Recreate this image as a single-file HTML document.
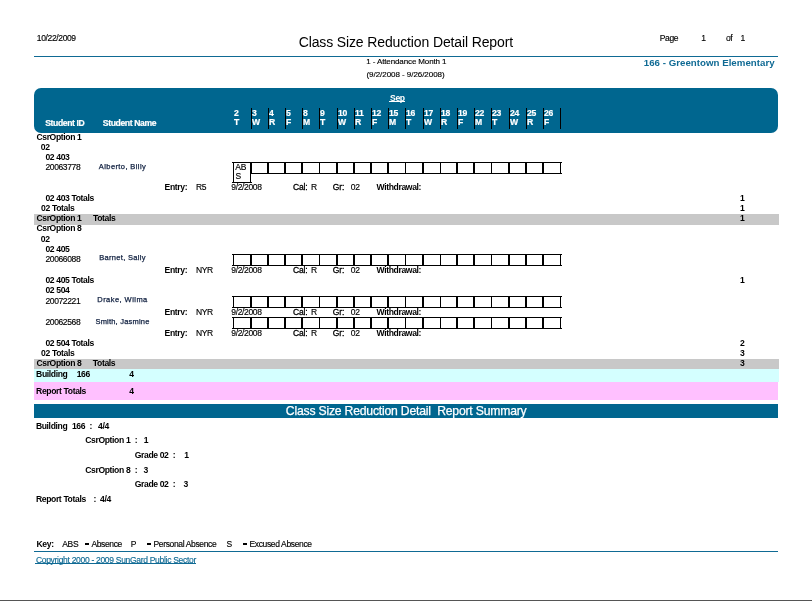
<!DOCTYPE html>
<html><head><meta charset="utf-8"><title>Class Size Reduction Detail Report</title>
<style>
html,body{margin:0;padding:0;background:#fff;}
body{width:812px;height:601px;position:relative;overflow:hidden;will-change:transform;font-family:"Liberation Sans",sans-serif;}
.t{position:absolute;white-space:pre;line-height:1;color:#000;}
.g{font-size:8.5px;letter-spacing:-0.36px;-webkit-text-stroke-width:0.15px;}
.b{font-size:8.6px;font-weight:700;letter-spacing:-0.37px;}
.r{position:absolute;}
.bx{position:absolute;box-sizing:border-box;border:1px solid #000;}
.nm{text-align:center;font-size:7.5px;font-weight:400;color:#102040;-webkit-text-stroke:0.25px #102040;}
</style></head><body>
<div class="t g" style="left:36.8px;top:34.10px;">10/22/2009</div>
<div class="t" style="left:298.7px;top:35.08px;font-size:14px;letter-spacing:-0.13px;">Class Size Reduction Detail Report</div>
<div class="t g" style="left:659.8px;top:34.40px;">Page</div>
<div class="t g" style="left:701.2px;top:34.40px;">1</div>
<div class="t g" style="left:725.9px;top:34.40px;">of</div>
<div class="t g" style="left:740.5px;top:34.40px;">1</div>
<div class="r" style="left:34px;top:56px;width:744px;height:1px;background:#0f6a94;"></div>
<div class="t" style="left:643.8px;top:58.04px;font-size:9.7px;font-weight:700;color:#0f6a94;letter-spacing:0.02px;">166 - Greentown Elementary</div>
<div class="t" style="left:366.3px;top:57.76px;font-size:8px;letter-spacing:-0.12px;-webkit-text-stroke-width:0.15px;">1 - Attendance Month 1</div>
<div class="t" style="left:366.5px;top:70.86px;font-size:8px;letter-spacing:-0.05px;-webkit-text-stroke-width:0.15px;">(9/2/2008 - 9/26/2008)</div>
<div class="r" style="left:34px;top:88px;width:744px;height:45px;background:#00668f;border-radius:7px;"></div>
<div class="t b" style="left:390.1px;top:93.88px;color:#fff;">Sep</div>
<div class="r" style="left:389px;top:101px;width:16px;height:1px;background:#fff;"></div>
<div class="t b" style="left:234px;top:109.18px;color:#fff;-webkit-text-stroke:0.2px #fff;">2</div>
<div class="t b" style="left:234px;top:118.08px;color:#fff;-webkit-text-stroke:0.2px #fff;">T</div>
<div class="t b" style="left:252px;top:109.18px;color:#fff;-webkit-text-stroke:0.2px #fff;">3</div>
<div class="t b" style="left:252px;top:118.08px;color:#fff;-webkit-text-stroke:0.2px #fff;">W</div>
<div class="r" style="left:251px;top:108px;width:1px;height:21px;background:#000;"></div>
<div class="t b" style="left:269px;top:109.18px;color:#fff;-webkit-text-stroke:0.2px #fff;">4</div>
<div class="t b" style="left:269px;top:118.08px;color:#fff;-webkit-text-stroke:0.2px #fff;">R</div>
<div class="r" style="left:268px;top:108px;width:1px;height:21px;background:#000;"></div>
<div class="t b" style="left:286px;top:109.18px;color:#fff;-webkit-text-stroke:0.2px #fff;">5</div>
<div class="t b" style="left:286px;top:118.08px;color:#fff;-webkit-text-stroke:0.2px #fff;">F</div>
<div class="r" style="left:285px;top:108px;width:1px;height:21px;background:#000;"></div>
<div class="t b" style="left:303px;top:109.18px;color:#fff;-webkit-text-stroke:0.2px #fff;">8</div>
<div class="t b" style="left:303px;top:118.08px;color:#fff;-webkit-text-stroke:0.2px #fff;">M</div>
<div class="r" style="left:302px;top:108px;width:1px;height:21px;background:#000;"></div>
<div class="t b" style="left:320px;top:109.18px;color:#fff;-webkit-text-stroke:0.2px #fff;">9</div>
<div class="t b" style="left:320px;top:118.08px;color:#fff;-webkit-text-stroke:0.2px #fff;">T</div>
<div class="r" style="left:319px;top:108px;width:1px;height:21px;background:#000;"></div>
<div class="t b" style="left:338px;top:109.18px;color:#fff;-webkit-text-stroke:0.2px #fff;">10</div>
<div class="t b" style="left:338px;top:118.08px;color:#fff;-webkit-text-stroke:0.2px #fff;">W</div>
<div class="r" style="left:337px;top:108px;width:1px;height:21px;background:#000;"></div>
<div class="t b" style="left:355px;top:109.18px;color:#fff;-webkit-text-stroke:0.2px #fff;">11</div>
<div class="t b" style="left:355px;top:118.08px;color:#fff;-webkit-text-stroke:0.2px #fff;">R</div>
<div class="r" style="left:354px;top:108px;width:1px;height:21px;background:#000;"></div>
<div class="t b" style="left:372px;top:109.18px;color:#fff;-webkit-text-stroke:0.2px #fff;">12</div>
<div class="t b" style="left:372px;top:118.08px;color:#fff;-webkit-text-stroke:0.2px #fff;">F</div>
<div class="r" style="left:371px;top:108px;width:1px;height:21px;background:#000;"></div>
<div class="t b" style="left:389px;top:109.18px;color:#fff;-webkit-text-stroke:0.2px #fff;">15</div>
<div class="t b" style="left:389px;top:118.08px;color:#fff;-webkit-text-stroke:0.2px #fff;">M</div>
<div class="r" style="left:388px;top:108px;width:1px;height:21px;background:#000;"></div>
<div class="t b" style="left:406px;top:109.18px;color:#fff;-webkit-text-stroke:0.2px #fff;">16</div>
<div class="t b" style="left:406px;top:118.08px;color:#fff;-webkit-text-stroke:0.2px #fff;">T</div>
<div class="r" style="left:405px;top:108px;width:1px;height:21px;background:#000;"></div>
<div class="t b" style="left:424px;top:109.18px;color:#fff;-webkit-text-stroke:0.2px #fff;">17</div>
<div class="t b" style="left:424px;top:118.08px;color:#fff;-webkit-text-stroke:0.2px #fff;">W</div>
<div class="r" style="left:423px;top:108px;width:1px;height:21px;background:#000;"></div>
<div class="t b" style="left:441px;top:109.18px;color:#fff;-webkit-text-stroke:0.2px #fff;">18</div>
<div class="t b" style="left:441px;top:118.08px;color:#fff;-webkit-text-stroke:0.2px #fff;">R</div>
<div class="r" style="left:440px;top:108px;width:1px;height:21px;background:#000;"></div>
<div class="t b" style="left:458px;top:109.18px;color:#fff;-webkit-text-stroke:0.2px #fff;">19</div>
<div class="t b" style="left:458px;top:118.08px;color:#fff;-webkit-text-stroke:0.2px #fff;">F</div>
<div class="r" style="left:457px;top:108px;width:1px;height:21px;background:#000;"></div>
<div class="t b" style="left:475px;top:109.18px;color:#fff;-webkit-text-stroke:0.2px #fff;">22</div>
<div class="t b" style="left:475px;top:118.08px;color:#fff;-webkit-text-stroke:0.2px #fff;">M</div>
<div class="r" style="left:474px;top:108px;width:1px;height:21px;background:#000;"></div>
<div class="t b" style="left:492px;top:109.18px;color:#fff;-webkit-text-stroke:0.2px #fff;">23</div>
<div class="t b" style="left:492px;top:118.08px;color:#fff;-webkit-text-stroke:0.2px #fff;">T</div>
<div class="r" style="left:491px;top:108px;width:1px;height:21px;background:#000;"></div>
<div class="t b" style="left:510px;top:109.18px;color:#fff;-webkit-text-stroke:0.2px #fff;">24</div>
<div class="t b" style="left:510px;top:118.08px;color:#fff;-webkit-text-stroke:0.2px #fff;">W</div>
<div class="r" style="left:509px;top:108px;width:1px;height:21px;background:#000;"></div>
<div class="t b" style="left:527px;top:109.18px;color:#fff;-webkit-text-stroke:0.2px #fff;">25</div>
<div class="t b" style="left:527px;top:118.08px;color:#fff;-webkit-text-stroke:0.2px #fff;">R</div>
<div class="r" style="left:526px;top:108px;width:1px;height:21px;background:#000;"></div>
<div class="t b" style="left:544px;top:109.18px;color:#fff;-webkit-text-stroke:0.2px #fff;">26</div>
<div class="t b" style="left:544px;top:118.08px;color:#fff;-webkit-text-stroke:0.2px #fff;">F</div>
<div class="r" style="left:543px;top:108px;width:1px;height:21px;background:#000;"></div>
<div class="r" style="left:560px;top:108px;width:1px;height:21px;background:#000;"></div>
<div class="t b" style="left:45.2px;top:119.48px;color:#fff;-webkit-text-stroke:0.2px #fff;">Student ID</div>
<div class="t b" style="left:102.8px;top:119.48px;color:#fff;-webkit-text-stroke:0.2px #fff;">Student Name</div>
<div class="t b" style="left:36.4px;top:133.08px;">CsrOption 1</div>
<div class="t b" style="left:40.8px;top:143.28px;">02</div>
<div class="t b" style="left:45.4px;top:152.98px;">02 403</div>
<div class="t g" style="left:45.4px;top:162.90px;">20063778</div>
<div class="t nm" style="left:72px;width:101px;top:163.20px;letter-spacing:0.4px;">Alberto, Billy</div>
<div class="r" style="left:232px;top:162px;width:330px;height:1px;background:#000;"></div>
<div class="r" style="left:250px;top:173px;width:312px;height:1px;background:#000;"></div>
<div class="r" style="left:232px;top:182px;width:20px;height:1px;background:#000;"></div>
<div class="r" style="left:233px;top:162px;width:1px;height:21px;background:#000;"></div>
<div class="r" style="left:250px;top:162px;width:1px;height:21px;background:#000;"></div>
<div class="t" style="left:235.3px;top:163.30px;font-size:8.5px;letter-spacing:-0.3px;-webkit-text-stroke-width:0.15px;">AB</div>
<div class="t" style="left:235.5px;top:172.30px;font-size:8.5px;-webkit-text-stroke-width:0.15px;">S</div>
<div class="r" style="left:250px;top:162px;width:2px;height:12px;background:#000;"></div>
<div class="r" style="left:267px;top:162px;width:2px;height:12px;background:#000;"></div>
<div class="r" style="left:284px;top:162px;width:2px;height:12px;background:#000;"></div>
<div class="r" style="left:301px;top:162px;width:2px;height:12px;background:#000;"></div>
<div class="r" style="left:319px;top:162px;width:1px;height:12px;background:#000;"></div>
<div class="r" style="left:336px;top:162px;width:2px;height:12px;background:#000;"></div>
<div class="r" style="left:353px;top:162px;width:2px;height:12px;background:#000;"></div>
<div class="r" style="left:370px;top:162px;width:2px;height:12px;background:#000;"></div>
<div class="r" style="left:387px;top:162px;width:2px;height:12px;background:#000;"></div>
<div class="r" style="left:405px;top:162px;width:1px;height:12px;background:#000;"></div>
<div class="r" style="left:422px;top:162px;width:2px;height:12px;background:#000;"></div>
<div class="r" style="left:440px;top:162px;width:1px;height:12px;background:#000;"></div>
<div class="r" style="left:456px;top:162px;width:2px;height:12px;background:#000;"></div>
<div class="r" style="left:473px;top:162px;width:2px;height:12px;background:#000;"></div>
<div class="r" style="left:491px;top:162px;width:1px;height:12px;background:#000;"></div>
<div class="r" style="left:508px;top:162px;width:2px;height:12px;background:#000;"></div>
<div class="r" style="left:525px;top:162px;width:2px;height:12px;background:#000;"></div>
<div class="r" style="left:542px;top:162px;width:2px;height:12px;background:#000;"></div>
<div class="r" style="left:560px;top:162px;width:1px;height:12px;background:#000;"></div>
<div class="t b" style="left:164.6px;top:182.88px;">Entry:</div>
<div class="t g" style="left:196px;top:182.90px;">R5</div>
<div class="t g" style="left:231.3px;top:182.90px;">9/2/2008</div>
<div class="t g" style="left:292.9px;top:182.90px;-webkit-text-stroke-width:0.3px;letter-spacing:-0.1px;">Cal:</div>
<div class="t g" style="left:311px;top:182.90px;">R</div>
<div class="t g" style="left:332.7px;top:182.90px;-webkit-text-stroke-width:0.3px;letter-spacing:-0.1px;">Gr:</div>
<div class="t g" style="left:350.8px;top:182.90px;">02</div>
<div class="t b" style="left:376.5px;top:182.88px;">Withdrawal:</div>
<div class="t b" style="left:45.4px;top:194.38px;">02 403 Totals</div>
<div class="t b" style="left:740px;top:194.08px;">1</div>
<div class="t b" style="left:41.1px;top:204.28px;">02 Totals</div>
<div class="t b" style="left:740px;top:204.08px;">1</div>
<div class="r" style="left:34px;top:214px;width:745px;height:11px;background:#c8c8c8;"></div>
<div class="t b" style="left:36.4px;top:214.08px;">CsrOption 1</div>
<div class="t b" style="left:93px;top:214.08px;">Totals</div>
<div class="t b" style="left:740px;top:213.88px;">1</div>
<div class="t b" style="left:36.4px;top:224.38px;">CsrOption 8</div>
<div class="t b" style="left:40.8px;top:235.08px;">02</div>
<div class="t b" style="left:45.4px;top:245.18px;">02 405</div>
<div class="t g" style="left:45.4px;top:255.00px;">20066088</div>
<div class="t nm" style="left:72px;width:101px;top:254.30px;letter-spacing:0.3px;">Barnet, Sally</div>
<div class="r" style="left:232px;top:254px;width:330px;height:1px;background:#000;"></div>
<div class="r" style="left:232px;top:265px;width:330px;height:1px;background:#000;"></div>
<div class="r" style="left:233px;top:254px;width:1px;height:12px;background:#000;"></div>
<div class="r" style="left:250px;top:254px;width:2px;height:12px;background:#000;"></div>
<div class="r" style="left:267px;top:254px;width:2px;height:12px;background:#000;"></div>
<div class="r" style="left:284px;top:254px;width:2px;height:12px;background:#000;"></div>
<div class="r" style="left:301px;top:254px;width:2px;height:12px;background:#000;"></div>
<div class="r" style="left:319px;top:254px;width:1px;height:12px;background:#000;"></div>
<div class="r" style="left:336px;top:254px;width:2px;height:12px;background:#000;"></div>
<div class="r" style="left:353px;top:254px;width:2px;height:12px;background:#000;"></div>
<div class="r" style="left:370px;top:254px;width:2px;height:12px;background:#000;"></div>
<div class="r" style="left:387px;top:254px;width:2px;height:12px;background:#000;"></div>
<div class="r" style="left:405px;top:254px;width:1px;height:12px;background:#000;"></div>
<div class="r" style="left:422px;top:254px;width:2px;height:12px;background:#000;"></div>
<div class="r" style="left:440px;top:254px;width:1px;height:12px;background:#000;"></div>
<div class="r" style="left:456px;top:254px;width:2px;height:12px;background:#000;"></div>
<div class="r" style="left:473px;top:254px;width:2px;height:12px;background:#000;"></div>
<div class="r" style="left:491px;top:254px;width:1px;height:12px;background:#000;"></div>
<div class="r" style="left:508px;top:254px;width:2px;height:12px;background:#000;"></div>
<div class="r" style="left:525px;top:254px;width:2px;height:12px;background:#000;"></div>
<div class="r" style="left:542px;top:254px;width:2px;height:12px;background:#000;"></div>
<div class="r" style="left:560px;top:254px;width:1px;height:12px;background:#000;"></div>
<div class="t b" style="left:164.6px;top:266.08px;">Entry:</div>
<div class="t g" style="left:196px;top:266.10px;">NYR</div>
<div class="t g" style="left:231.3px;top:266.10px;">9/2/2008</div>
<div class="t g" style="left:292.9px;top:266.10px;-webkit-text-stroke-width:0.3px;letter-spacing:-0.1px;">Cal:</div>
<div class="t g" style="left:311px;top:266.10px;">R</div>
<div class="t g" style="left:332.7px;top:266.10px;-webkit-text-stroke-width:0.3px;letter-spacing:-0.1px;">Gr:</div>
<div class="t g" style="left:350.8px;top:266.10px;">02</div>
<div class="t b" style="left:376.5px;top:266.08px;">Withdrawal:</div>
<div class="t b" style="left:45.4px;top:276.28px;">02 405 Totals</div>
<div class="t b" style="left:740px;top:276.28px;">1</div>
<div class="t b" style="left:45.4px;top:285.98px;">02 504</div>
<div class="t g" style="left:45.4px;top:297.10px;">20072221</div>
<div class="t nm" style="left:72px;width:101px;top:296.30px;letter-spacing:0.45px;">Drake, Wilma</div>
<div class="r" style="left:232px;top:296px;width:330px;height:1px;background:#000;"></div>
<div class="r" style="left:232px;top:307px;width:330px;height:1px;background:#000;"></div>
<div class="r" style="left:233px;top:296px;width:1px;height:12px;background:#000;"></div>
<div class="r" style="left:250px;top:296px;width:2px;height:12px;background:#000;"></div>
<div class="r" style="left:267px;top:296px;width:2px;height:12px;background:#000;"></div>
<div class="r" style="left:284px;top:296px;width:2px;height:12px;background:#000;"></div>
<div class="r" style="left:301px;top:296px;width:2px;height:12px;background:#000;"></div>
<div class="r" style="left:319px;top:296px;width:1px;height:12px;background:#000;"></div>
<div class="r" style="left:336px;top:296px;width:2px;height:12px;background:#000;"></div>
<div class="r" style="left:353px;top:296px;width:2px;height:12px;background:#000;"></div>
<div class="r" style="left:370px;top:296px;width:2px;height:12px;background:#000;"></div>
<div class="r" style="left:387px;top:296px;width:2px;height:12px;background:#000;"></div>
<div class="r" style="left:405px;top:296px;width:1px;height:12px;background:#000;"></div>
<div class="r" style="left:422px;top:296px;width:2px;height:12px;background:#000;"></div>
<div class="r" style="left:440px;top:296px;width:1px;height:12px;background:#000;"></div>
<div class="r" style="left:456px;top:296px;width:2px;height:12px;background:#000;"></div>
<div class="r" style="left:473px;top:296px;width:2px;height:12px;background:#000;"></div>
<div class="r" style="left:491px;top:296px;width:1px;height:12px;background:#000;"></div>
<div class="r" style="left:508px;top:296px;width:2px;height:12px;background:#000;"></div>
<div class="r" style="left:525px;top:296px;width:2px;height:12px;background:#000;"></div>
<div class="r" style="left:542px;top:296px;width:2px;height:12px;background:#000;"></div>
<div class="r" style="left:560px;top:296px;width:1px;height:12px;background:#000;"></div>
<div class="t b" style="left:164.6px;top:307.88px;">Entry:</div>
<div class="t g" style="left:196px;top:307.90px;">NYR</div>
<div class="t g" style="left:231.3px;top:307.90px;">9/2/2008</div>
<div class="t g" style="left:292.9px;top:307.90px;-webkit-text-stroke-width:0.3px;letter-spacing:-0.1px;">Cal:</div>
<div class="t g" style="left:311px;top:307.90px;">R</div>
<div class="t g" style="left:332.7px;top:307.90px;-webkit-text-stroke-width:0.3px;letter-spacing:-0.1px;">Gr:</div>
<div class="t g" style="left:350.8px;top:307.90px;">02</div>
<div class="t b" style="left:376.5px;top:307.88px;">Withdrawal:</div>
<div class="r" style="left:160px;top:315px;width:30px;height:2.5px;background:#fff;"></div>
<div class="t g" style="left:45.4px;top:318.10px;">20062568</div>
<div class="t nm" style="left:72px;width:101px;top:318.30px;letter-spacing:0.2px;">Smith, Jasmine</div>
<div class="r" style="left:232px;top:317px;width:330px;height:1px;background:#000;"></div>
<div class="r" style="left:232px;top:328px;width:330px;height:1px;background:#000;"></div>
<div class="r" style="left:233px;top:317px;width:1px;height:12px;background:#000;"></div>
<div class="r" style="left:250px;top:317px;width:2px;height:12px;background:#000;"></div>
<div class="r" style="left:267px;top:317px;width:2px;height:12px;background:#000;"></div>
<div class="r" style="left:284px;top:317px;width:2px;height:12px;background:#000;"></div>
<div class="r" style="left:301px;top:317px;width:2px;height:12px;background:#000;"></div>
<div class="r" style="left:319px;top:317px;width:1px;height:12px;background:#000;"></div>
<div class="r" style="left:336px;top:317px;width:2px;height:12px;background:#000;"></div>
<div class="r" style="left:353px;top:317px;width:2px;height:12px;background:#000;"></div>
<div class="r" style="left:370px;top:317px;width:2px;height:12px;background:#000;"></div>
<div class="r" style="left:387px;top:317px;width:2px;height:12px;background:#000;"></div>
<div class="r" style="left:405px;top:317px;width:1px;height:12px;background:#000;"></div>
<div class="r" style="left:422px;top:317px;width:2px;height:12px;background:#000;"></div>
<div class="r" style="left:440px;top:317px;width:1px;height:12px;background:#000;"></div>
<div class="r" style="left:456px;top:317px;width:2px;height:12px;background:#000;"></div>
<div class="r" style="left:473px;top:317px;width:2px;height:12px;background:#000;"></div>
<div class="r" style="left:491px;top:317px;width:1px;height:12px;background:#000;"></div>
<div class="r" style="left:508px;top:317px;width:2px;height:12px;background:#000;"></div>
<div class="r" style="left:525px;top:317px;width:2px;height:12px;background:#000;"></div>
<div class="r" style="left:542px;top:317px;width:2px;height:12px;background:#000;"></div>
<div class="r" style="left:560px;top:317px;width:1px;height:12px;background:#000;"></div>
<div class="t b" style="left:164.6px;top:328.88px;">Entry:</div>
<div class="t g" style="left:196px;top:328.90px;">NYR</div>
<div class="t g" style="left:231.3px;top:328.90px;">9/2/2008</div>
<div class="t g" style="left:292.9px;top:328.90px;-webkit-text-stroke-width:0.3px;letter-spacing:-0.1px;">Cal:</div>
<div class="t g" style="left:311px;top:328.90px;">R</div>
<div class="t g" style="left:332.7px;top:328.90px;-webkit-text-stroke-width:0.3px;letter-spacing:-0.1px;">Gr:</div>
<div class="t g" style="left:350.8px;top:328.90px;">02</div>
<div class="t b" style="left:376.5px;top:328.88px;">Withdrawal:</div>
<div class="t b" style="left:45.4px;top:339.48px;">02 504 Totals</div>
<div class="t b" style="left:740px;top:339.48px;">2</div>
<div class="t b" style="left:41.1px;top:349.08px;">02 Totals</div>
<div class="t b" style="left:740px;top:349.08px;">3</div>
<div class="r" style="left:34px;top:359px;width:745px;height:10px;background:#c8c8c8;"></div>
<div class="t b" style="left:36.4px;top:359.18px;">CsrOption 8</div>
<div class="t b" style="left:92.8px;top:359.18px;">Totals</div>
<div class="t b" style="left:740px;top:359.18px;">3</div>
<div class="r" style="left:34px;top:369px;width:745px;height:13px;background:#d4ffff;"></div>
<div class="t b" style="left:36.1px;top:369.88px;">Building</div>
<div class="t b" style="left:76.7px;top:369.88px;">166</div>
<div class="t b" style="left:129.3px;top:369.88px;">4</div>
<div class="r" style="left:34px;top:382px;width:744px;height:18px;background:#ffc0ff;"></div>
<div class="t b" style="left:36.1px;top:387.08px;">Report Totals</div>
<div class="t b" style="left:129.3px;top:387.08px;">4</div>
<div class="r" style="left:34px;top:404px;width:744px;height:14px;background:#00668f;"></div>
<div class="t" style="left:285.8px;top:404.81px;font-size:12.2px;color:#fff;letter-spacing:-0.2px;-webkit-text-stroke:0.25px #fff;">Class Size Reduction Detail&nbsp; Report Summary</div>
<div class="t b" style="left:35.9px;top:422.08px;">Building</div>
<div class="t b" style="left:71.9px;top:422.08px;">166</div>
<div class="t b" style="left:89.4px;top:422.08px;">:</div>
<div class="t b" style="left:98.1px;top:422.08px;">4/4</div>
<div class="t b" style="left:85.2px;top:436.28px;">CsrOption 1</div>
<div class="t b" style="left:134.7px;top:436.28px;">:</div>
<div class="t b" style="left:143.8px;top:436.28px;">1</div>
<div class="t b" style="left:134.7px;top:451.08px;">Grade 02</div>
<div class="t b" style="left:172.8px;top:451.08px;">:</div>
<div class="t b" style="left:184.2px;top:451.08px;">1</div>
<div class="t b" style="left:85.2px;top:465.88px;">CsrOption 8</div>
<div class="t b" style="left:134.7px;top:465.88px;">:</div>
<div class="t b" style="left:143.5px;top:465.88px;">3</div>
<div class="t b" style="left:134.7px;top:480.28px;">Grade 02</div>
<div class="t b" style="left:172.8px;top:480.28px;">:</div>
<div class="t b" style="left:183.4px;top:480.28px;">3</div>
<div class="t b" style="left:35.9px;top:494.98px;">Report Totals</div>
<div class="t b" style="left:93.4px;top:494.98px;">:</div>
<div class="t b" style="left:100px;top:494.98px;">4/4</div>
<div class="t b" style="left:36.5px;top:540.38px;">Key:</div>
<div class="t g" style="left:62.3px;top:540.40px;">ABS</div>
<div class="r" style="left:85px;top:543px;width:4px;height:2px;background:#000;"></div>
<div class="t g" style="left:91.4px;top:540.40px;">Absence</div>
<div class="t g" style="left:130.7px;top:540.40px;">P</div>
<div class="r" style="left:147px;top:543px;width:4px;height:2px;background:#000;"></div>
<div class="t g" style="left:153.5px;top:540.40px;">Personal Absence</div>
<div class="t g" style="left:226.4px;top:540.40px;">S</div>
<div class="r" style="left:243px;top:543px;width:4px;height:2px;background:#000;"></div>
<div class="t g" style="left:249.5px;top:540.40px;">Excused Absence</div>
<div class="r" style="left:34px;top:551px;width:744px;height:1px;background:#0f6a94;"></div>
<div class="t" style="left:35.9px;top:555.70px;font-size:8.5px;color:#0f6a94;letter-spacing:-0.3px;-webkit-text-stroke-width:0.15px;">Copyright 2000 - 2009 SunGard Public Sector</div>
<div class="r" style="left:35px;top:563px;width:161px;height:1px;background:#0f6a94;"></div>
<div class="r" style="left:0px;top:600px;width:812px;height:1px;background:#555;"></div>
</body></html>
